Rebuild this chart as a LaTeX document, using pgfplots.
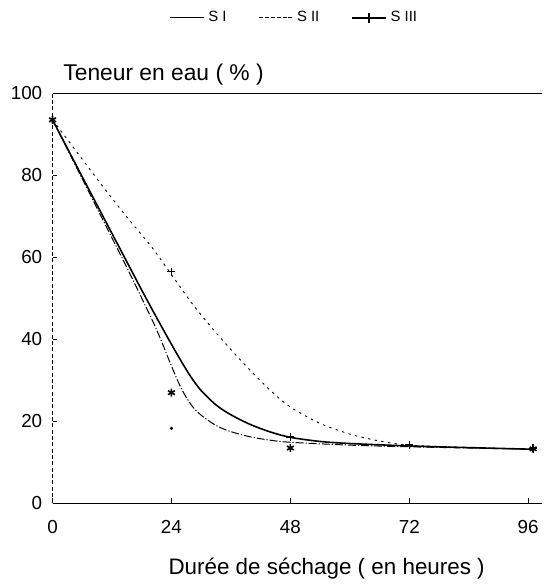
\documentclass[border=0pt]{standalone}
\usepackage{fontspec}
\setmainfont{Liberation Sans}
\usepackage{pgfplots}
\pgfplotsset{compat=1.18}
\begin{document}
\begin{tikzpicture}
\begin{axis}[
  scale only axis, width=247pt, height=207pt,
  xmin=0, xmax=98.8, ymin=0, ymax=100,
  axis x line*=bottom, axis y line*=left,
  x axis line style={line width=0.9pt, -},
  y axis line style={line width=0.5pt, dash pattern=on 2pt off 1.2pt, -},
  xtick={0,24,48,72,96},
  ytick={0,20,40,60,80},
  extra y ticks={100},
  extra y tick style={grid=major, major grid style={line width=0.6pt, black, solid}},
  tick align=inside, major tick length=2.5pt,
  tick style={black, line width=0.5pt, solid},
  /pgf/number format/assume math mode=true,
  ticklabel style={font=\fontsize{9.5}{11}\selectfont},
  xticklabel style={anchor=base, yshift=-15pt},
  yticklabel style={anchor=east, inner sep=0pt, xshift=-5pt},
  xlabel={Durée de séchage ( en heures )},
  every axis x label/.style={at={(axis description cs:0.56,0)}, anchor=base, yshift=-36pt, font=\fontsize{11.3}{13}\selectfont},
  ylabel={Teneur en eau ( \% )},
  every axis y label/.style={at={(axis description cs:0,1)}, anchor=base west, xshift=2pt, yshift=6.5pt, font=\fontsize{11.5}{13}\selectfont},
  legend columns=3,
  legend style={draw=none, fill=none, at={(axis description cs:0.496,1)}, anchor=center, yshift=38pt,
    font=\fontsize{7.5}{9}\selectfont, /tikz/every even column/.append style={column sep=14pt}},
]
\addlegendimage{black, line width=0.5pt}
\addlegendimage{black, line width=0.5pt, dash pattern=on 2pt off 1pt}
\addlegendimage{black, line width=0.9pt, mark=+, mark size=2.5pt}
% upper curve (loosely dotted)
\addplot[forget plot, black, line width=0.45pt, dash pattern=on 1.2pt off 2.2pt, smooth] coordinates {
 (0,93.5) (5,85.5) (10,77.5) (15,69.8) (20,62.5) (24,55.8) (28,49) (32,43) (36,37.5) (40,32.3)
 (44,27.5) (48,23.5) (54,19.5) (60,16.9) (66,15.2) (72,14.2) (84,13.6) (97,13.2)};
% middle curve (solid)
\addplot[forget plot, black, line width=0.8pt, smooth] coordinates {
 (0,93.5) (6,79.6) (12,65.8) (18,52) (21,45.3) (24,38.8) (26,34.6) (28,30.7) (30,27.5) (33,24)
 (36,21.6) (40,19.2) (44,17.4) (48,16.1) (54,15.1) (60,14.6) (72,14) (84,13.6) (97,13.2)};
% lower curve (dash dot)
\addplot[forget plot, black, line width=0.5pt, dash pattern=on 4pt off 1pt on 0.6pt off 1pt, smooth] coordinates {
 (0,93.5) (5,81.5) (10,69.5) (15,57.5) (20,45) (22,39.5) (24,33.5) (26,28) (28,24) (30,21.5)
 (33,19) (36,17.5) (40,16.2) (44,15.4) (48,14.9) (60,14.2) (72,13.8) (84,13.5) (97,13.2)};
% star marks
\addplot[forget plot, only marks, mark=asterisk, mark size=2pt, black, line width=0.8pt] coordinates {
 (0,93.5) (24,27) (48,13.5) (97,13.3)};
% plus marks
\addplot[forget plot, only marks, mark=+, mark size=2pt, black, line width=0.7pt] coordinates {
 (24,56.5) (48,16.2) (72,14.2) (97,13.4)};
% dot
\addplot[forget plot, only marks, mark=*, mark size=0.6pt, black] coordinates {(24,18.3)};
\legend{S I, S II, S III}
\coordinate (SW) at (rel axis cs:0,0);
\coordinate (NE) at (rel axis cs:1,1);
\end{axis}
\path ([shift={(-26.5pt,-39pt)}]SW) rectangle ([shift={(0pt,47pt)}]NE);
\end{tikzpicture}
\end{document}
